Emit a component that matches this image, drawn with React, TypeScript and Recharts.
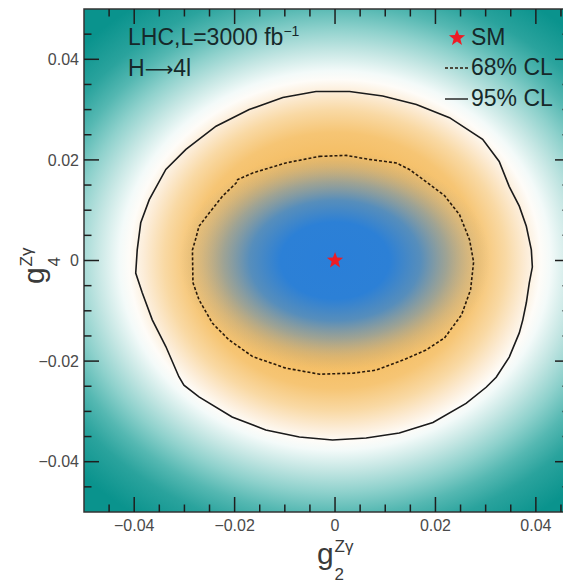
import React from 'react';
import {
  ScatterChart,
  Scatter,
  XAxis,
  YAxis,
  ReferenceArea,
} from 'recharts';

// axis ranges (data units)
const X_MIN = -0.05;
const X_MAX = 0.0468;
const Y_MIN = -0.05;
const Y_MAX = 0.05;

const majorTicks = [-0.04, -0.02, 0, 0.02, 0.04];
const minorTicks = [
  -0.045, -0.035, -0.03, -0.025, -0.015, -0.01, -0.005,
  0.005, 0.01, 0.015, 0.025, 0.03, 0.035, 0.045,
];

// 95% CL contour (solid)
const cl95 = [
  { x: -0.0038, y: 0.0336 }, { x: 0.0029, y: 0.0336 }, { x: 0.0095, y: 0.0327 },
  { x: 0.0162, y: 0.031 }, { x: 0.0228, y: 0.0284 }, { x: 0.0294, y: 0.0241 },
  { x: 0.0327, y: 0.0197 }, { x: 0.0347, y: 0.0147 }, { x: 0.0367, y: 0.0108 },
  { x: 0.0381, y: 0.0068 }, { x: 0.0391, y: 0.0021 }, { x: 0.0393, y: -0.0013 },
  { x: 0.0387, y: -0.0044 }, { x: 0.0381, y: -0.0084 }, { x: 0.0374, y: -0.0118 },
  { x: 0.0367, y: -0.0144 }, { x: 0.0347, y: -0.0192 }, { x: 0.0321, y: -0.0232 },
  { x: 0.0301, y: -0.0252 }, { x: 0.0261, y: -0.0284 }, { x: 0.0195, y: -0.0322 },
  { x: 0.0128, y: -0.0343 }, { x: 0.0062, y: -0.0353 }, { x: -0.0005, y: -0.0357 },
  { x: -0.0071, y: -0.0351 }, { x: -0.0138, y: -0.0337 }, { x: -0.0205, y: -0.0311 },
  { x: -0.0271, y: -0.0271 }, { x: -0.0301, y: -0.0248 }, { x: -0.0311, y: -0.0231 },
  { x: -0.0337, y: -0.0171 }, { x: -0.0364, y: -0.0118 }, { x: -0.0384, y: -0.0064 },
  { x: -0.0397, y: -0.0025 }, { x: -0.0394, y: 0.0021 }, { x: -0.0387, y: 0.0075 },
  { x: -0.037, y: 0.0121 }, { x: -0.0337, y: 0.0181 }, { x: -0.0297, y: 0.0221 },
  { x: -0.0237, y: 0.0267 }, { x: -0.0171, y: 0.03 }, { x: -0.0104, y: 0.0324 },
  { x: -0.0038, y: 0.0336 },
];

// 68% CL contour (dashed)
const cl68 = [
  { x: -0.0031, y: 0.0207 }, { x: 0.0022, y: 0.0209 }, { x: 0.0068, y: 0.0201 },
  { x: 0.0122, y: 0.0194 }, { x: 0.0148, y: 0.0181 }, { x: 0.0185, y: 0.0154 },
  { x: 0.0218, y: 0.0129 }, { x: 0.0248, y: 0.0091 }, { x: 0.0268, y: 0.0041 },
  { x: 0.0276, y: -0.0003 }, { x: 0.027, y: -0.0058 }, { x: 0.0252, y: -0.0108 },
  { x: 0.0218, y: -0.0154 }, { x: 0.0181, y: -0.0178 }, { x: 0.0135, y: -0.0198 },
  { x: 0.0082, y: -0.0218 }, { x: 0.0035, y: -0.0224 }, { x: -0.0031, y: -0.0226 },
  { x: -0.0098, y: -0.0214 }, { x: -0.0164, y: -0.0191 }, { x: -0.0211, y: -0.0158 },
  { x: -0.0244, y: -0.0125 }, { x: -0.0271, y: -0.0078 }, { x: -0.0283, y: -0.0044 },
  { x: -0.0284, y: 0.0021 }, { x: -0.0277, y: 0.0045 }, { x: -0.0271, y: 0.0068 },
  { x: -0.0251, y: 0.0094 }, { x: -0.0224, y: 0.0128 }, { x: -0.0197, y: 0.0154 },
  { x: -0.0194, y: 0.0161 }, { x: -0.0164, y: 0.0174 }, { x: -0.0098, y: 0.0194 },
  { x: -0.0031, y: 0.0207 },
];

const smPoint = [{ x: 0, y: 0 }];

const FONT = '"Liberation Sans", Arial, Helvetica, sans-serif';
const TEXT = '#16292a';

// chart layout (plot area inside the svg)
const W = 563;
const H = 575;
const MARGIN = { top: 1, right: 1, bottom: 41, left: 0 };
const Y_AXIS_W = 76;
const X_AXIS_H = 30;
const PL = MARGIN.left + Y_AXIS_W;
const PT = MARGIN.top;
const PW = W - PL - MARGIN.right;
const PH = H - PT - MARGIN.bottom - X_AXIS_H;
const px = (v: number) => PL + ((v - X_MIN) / (X_MAX - X_MIN)) * PW;
const py = (v: number) => PT + ((Y_MAX - v) / (Y_MAX - Y_MIN)) * PH;

const fmt = (v: number) => (v === 0 ? '0' : v < 0 ? `\u2212${Math.abs(v).toFixed(2)}` : v.toFixed(2));

const starPoints = (cx: number, cy: number, r: number) => {
  const pts: string[] = [];
  for (let i = 0; i < 10; i++) {
    const rad = i % 2 === 0 ? r : r * 0.42;
    const a = -Math.PI / 2 + (i * Math.PI) / 5;
    pts.push(`${cx + rad * Math.cos(a)},${cy + rad * Math.sin(a)}`);
  }
  return pts.join(' ');
};

const StarShape = (props: any) => <polygon points={starPoints(props.cx, props.cy, 8.5)} fill="#ee1c25" />;
const NoShape = () => <g />;

// frame with inward ticks on all four sides
const PlotFrame = () => {
  const all = [
    ...majorTicks.map((v) => ({ v, len: 15 })),
    ...minorTicks.map((v) => ({ v, len: 7.5 })),
  ];
  const bottom = PT + PH;
  const right = PL + PW;
  const lines: React.ReactNode[] = [];
  all.forEach(({ v, len }, i) => {
    if (v > X_MIN && v < X_MAX) {
      lines.push(<line key={`b${i}`} x1={px(v)} x2={px(v)} y1={bottom} y2={bottom - len} stroke="#1e1e1e" strokeWidth={1.5} />);
      lines.push(<line key={`t${i}`} x1={px(v)} x2={px(v)} y1={PT} y2={PT + len} stroke="#1e1e1e" strokeWidth={1.5} />);
    }
    lines.push(<line key={`l${i}`} x1={PL} x2={PL + len} y1={py(v)} y2={py(v)} stroke="#1e1e1e" strokeWidth={1.5} />);
    lines.push(<line key={`r${i}`} x1={right} x2={right - len} y1={py(v)} y2={py(v)} stroke="#1e1e1e" strokeWidth={1.5} />);
  });
  return (
    <g>
      <rect x={PL} y={PT} width={PW} height={PH} fill="none" stroke="#333333" strokeWidth={1.5} />
      {lines}
    </g>
  );
};

const App = () => {
  return (
    <div style={{ position: 'relative', width: W, height: H, overflow: 'hidden' }}>
      <ScatterChart width={W} height={H} margin={MARGIN}>
        <defs>
          <radialGradient
            id="heat"
            cx={0.5165}
            cy={0.5}
            r={0.723}
            gradientTransform="translate(0.5165 0.5) scale(1 0.85) translate(-0.5165 -0.5)"
          >
            <stop offset="0" stopColor="#f2b656" />
            <stop offset="0.32" stopColor="#f4bc60" />
            <stop offset="0.414" stopColor="#f6c574" />
            <stop offset="0.486" stopColor="#f9d9a4" />
            <stop offset="0.543" stopColor="#fcecd6" />
            <stop offset="0.586" stopColor="#fefcf8" />
            <stop offset="0.614" stopColor="#f3faf9" />
            <stop offset="0.679" stopColor="#c4e6e3" />
            <stop offset="0.75" stopColor="#8ed1cc" />
            <stop offset="0.821" stopColor="#55b8b2" />
            <stop offset="0.893" stopColor="#2aa39d" />
            <stop offset="1" stopColor="#0a938d" />
          </radialGradient>
          <radialGradient
            id="core"
            cx={0.5165}
            cy={0.5}
            r={0.32}
            gradientTransform="translate(0.5165 0.5) scale(1 0.68) translate(-0.5165 -0.5)"
          >
            <stop offset="0" stopColor="#2a7fd8" stopOpacity={1} />
            <stop offset="0.35" stopColor="#2c80d6" stopOpacity={1} />
            <stop offset="0.55" stopColor="#3b86cc" stopOpacity={0.85} />
            <stop offset="0.72" stopColor="#5a8fbe" stopOpacity={0.55} />
            <stop offset="0.86" stopColor="#7c98ae" stopOpacity={0.25} />
            <stop offset="1" stopColor="#9aa0a0" stopOpacity={0} />
          </radialGradient>
        </defs>
        <XAxis
          type="number"
          dataKey="x"
          domain={[X_MIN, X_MAX]}
          allowDataOverflow
          ticks={majorTicks}
          tickFormatter={fmt}
          axisLine={false}
          tickLine={false}
          tickSize={0}
          tickMargin={8}
          height={X_AXIS_H}
          tick={{ fontSize: 16, fontFamily: FONT, fill: '#4a4a4a' }}
        />
        <YAxis
          type="number"
          dataKey="y"
          domain={[Y_MIN, Y_MAX]}
          allowDataOverflow
          ticks={majorTicks}
          tickFormatter={fmt}
          axisLine={false}
          tickLine={false}
          tickSize={0}
          tickMargin={5}
          width={Y_AXIS_W}
          tick={{ fontSize: 16, fontFamily: FONT, fill: '#4a4a4a' }}
        />
        <ReferenceArea x1={X_MIN} x2={X_MAX} y1={Y_MIN} y2={Y_MAX} fill="url(#heat)" fillOpacity={1} stroke="none" />
        <ReferenceArea x1={X_MIN} x2={X_MAX} y1={Y_MIN} y2={Y_MAX} fill="url(#core)" fillOpacity={1} stroke="none" />
        <Scatter
          data={cl95}
          line={{ stroke: '#1b1b1b', strokeWidth: 1.6 }}
          lineType="joint"
          shape={NoShape}
          isAnimationActive={false}
        />
        <Scatter
          data={cl68}
          line={{ stroke: '#2a1a0a', strokeWidth: 1.6, strokeDasharray: '3 2' }}
          lineType="joint"
          shape={NoShape}
          isAnimationActive={false}
        />
        <Scatter data={smPoint} shape={StarShape} isAnimationActive={false} />
      </ScatterChart>

      <svg
        width={W}
        height={H}
        style={{ position: 'absolute', left: 0, top: 0, pointerEvents: 'none' }}
        fontFamily={FONT}
      >
        <PlotFrame />

        <text x={120} y={37} fontSize={23} fill={TEXT}>
          LHC,L=3000 fb
          <tspan dy={-9} fontSize={14}>{'\u22121'}</tspan>
        </text>
        <text x={120} y={68} fontSize={23} fill={TEXT}>
          H
          <tspan fontFamily='"DejaVu Sans"' fontSize={20}>{'\u27F6'}</tspan>
          4l
        </text>

        <polygon points={starPoints(449, 30, 8.5)} fill="#ee1c25" />
        <text x={463} y={37} fontSize={23} fill={TEXT}>SM</text>
        <line x1={437} x2={460} y1={60} y2={60} stroke="#2a1a0a" strokeWidth={1.4} strokeDasharray="3 2" />
        <text x={463} y={67} fontSize={23} fill={TEXT}>68% CL</text>
        <line x1={437} x2={460} y1={91} y2={91} stroke="#1b1b1b" strokeWidth={1.4} />
        <text x={463} y={98} fontSize={23} fill={TEXT}>95% CL</text>

        {/* x axis title */}
        <text x={309} y={556} fontSize={30} fill="#3a3a3a">
          g
          <tspan x={326.5} y={544} fontSize={17}>{'Z\u03b3'}</tspan>
          <tspan x={326.5} y={572} fontSize={17}>2</tspan>
        </text>

        {/* y axis title */}
        <g transform="translate(35.6 276) rotate(-90)">
          <text x={0} y={0} fontSize={30} fill="#3a3a3a">
            g
            <tspan x={17.5} y={-12} fontSize={17}>{'Z\u03b3'}</tspan>
            <tspan x={17.5} y={16} fontSize={17}>4</tspan>
          </text>
        </g>
      </svg>
    </div>
  );
};

export default App;
